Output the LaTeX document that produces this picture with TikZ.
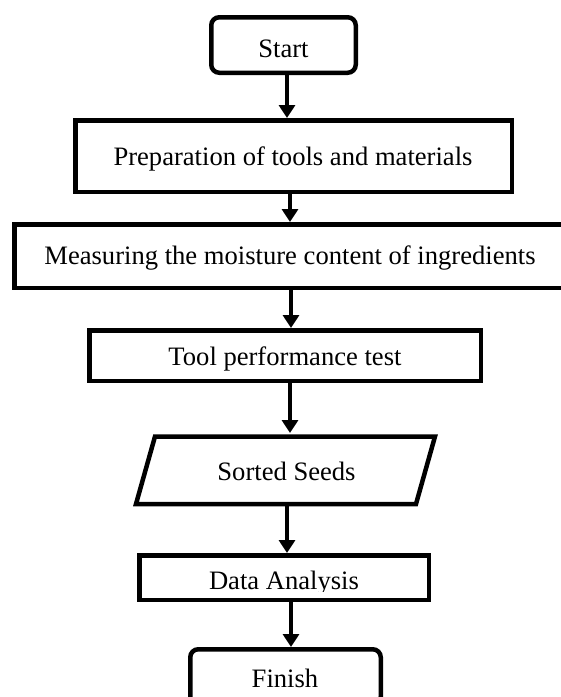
\documentclass[tikz,border=0pt]{standalone}
\usepackage{fontspec}
\setmainfont{Liberation Serif}
\usetikzlibrary{arrows.meta}
\begin{document}
\begin{tikzpicture}[x=1pt,y=-1pt,
  boxbase/.style={draw,line width=4.5pt,inner sep=0pt},
  procbox/.style={boxbase,rectangle},
  termbox/.style={boxbase,rectangle,rounded corners=8pt},
  txt/.style={inner sep=0pt,font=\fontsize{26.6}{30}\selectfont,anchor=base},
  arr/.style={line width=3.5pt,-{Triangle[width=16pt,length=13pt]}}]
\useasboundingbox (0,0) rectangle (561,697);
\clip (0,0) rectangle (561,697);
% boxes
\node[termbox,minimum width=144.5pt,minimum height=55.5pt] (start) at (283.5,45) {};
\node[txt] (starttxt) at (283.5,57) {Start};
\node[procbox,minimum width=436.5pt,minimum height=71.5pt] (prep) at (293.5,156) {};
\node[txt] (preptxt) at (293,165) {Preparation of tools and materials};
\node[procbox,minimum width=551.5pt,minimum height=63.5pt] (meas) at (290,256) {};
\node[txt] (meastxt) at (290,264) {Measuring the moisture content of ingredients};
\node[procbox,minimum width=391.5pt,minimum height=50.5pt] (tool) at (285,355.5) {};
\node[txt] (tooltxt) at (285,365) {Tool performance test};
% parallelogram
\coordinate (stl) at (155,436.5);
\coordinate (str) at (435,436.5);
\coordinate (sbr) at (416,504);
\coordinate (sbl) at (136,504);
\draw[line width=4.5pt,line join=miter] (stl) -- (str) -- (sbr) -- (sbl) -- cycle;
\node[txt] (sorted) at (286.5,480) {Sorted Seeds};
\coordinate (sortedtop) at (290,433);
\coordinate (sortedbot) at (287,506);
% data analysis with clipped text
\node[procbox,minimum width=289.5pt,minimum height=44.5pt] (data) at (284,577.5) {};
\begin{scope}
  \clip (data.north west) rectangle ([yshift=11pt]data.south east);
  \node[txt] (datatxt) at (284,589) {Data Analysis};
\end{scope}
\node[termbox,minimum width=190.5pt,minimum height=55.5pt] (finish) at (285.5,677) {};
\node[txt] (finishtxt) at (285,687) {Finish};
% arrows
\draw[arr] (start.south -| 287,0) -- (prep.north -| 287,0);
\draw[arr] (prep.south -| 290,0) -- (meas.north -| 290,0);
\draw[arr] (meas.south -| 291,0) -- (tool.north -| 291,0);
\draw[arr] (tool.south -| 290,0) -- (sortedtop);
\draw[arr] (sortedbot) -- (data.north -| 287,0);
\draw[arr] (data.south -| 291,0) -- (finish.north -| 291,0);
\end{tikzpicture}
\end{document}
